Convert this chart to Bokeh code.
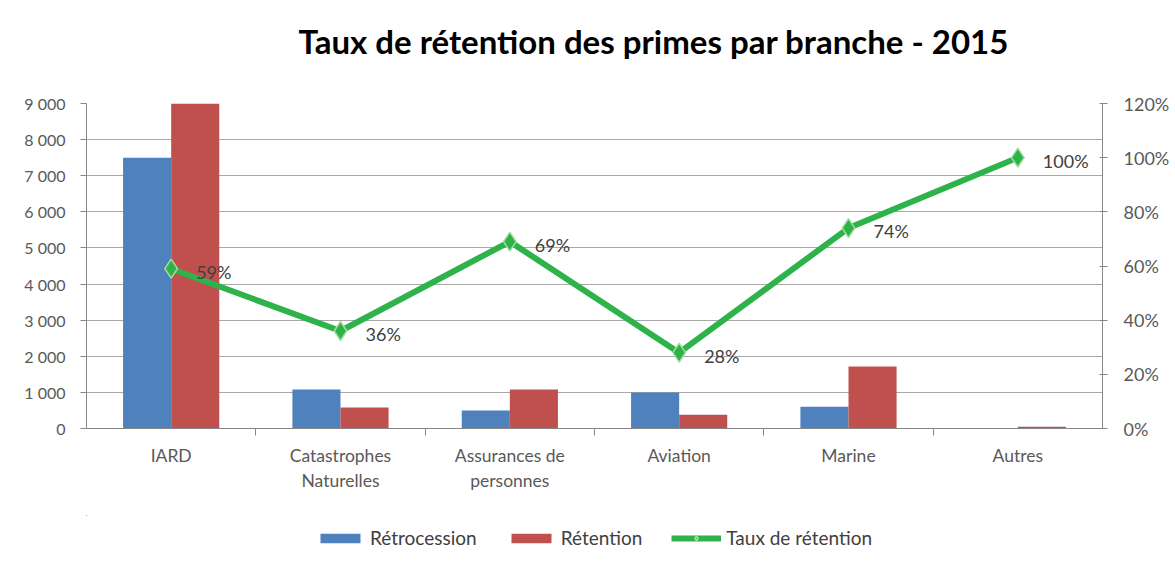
from bokeh.plotting import figure
from bokeh.layouts import column
from bokeh.models import (ColumnDataSource, Range1d, LinearAxis, FixedTicker, Legend, LegendItem,
                          LabelSet, Title)
from bokeh.core.properties import value
from bokeh.transform import dodge
from bokeh.embed import file_html
from bokeh.resources import INLINE

categories = ["IARD", "Catastrophes\nNaturelles", "Assurances de\npersonnes", "Aviation", "Marine", "Autres"]
retrocession = [7500, 1080, 500, 1000, 600, 0]
retention = [10800, 580, 1080, 380, 1720, 50]
taux = [0.59, 0.36, 0.69, 0.28, 0.74, 1.00]
taux_labels = ["59%", "36%", "69%", "28%", "74%", "100%"]
series_names = ["Rétrocession", "Rétention", "Taux de rétention"]
title_text = "Taux de rétention des primes par branche - 2015"
left_ticks = [0, 1000, 2000, 3000, 4000, 5000, 6000, 7000, 8000, 9000]
left_labels = ["0", "1 000", "2 000", "3 000", "4 000", "5 000", "6 000", "7 000", "8 000", "9 000"]
right_ticks = [0, 0.2, 0.4, 0.6, 0.8, 1.0, 1.2]
right_labels = ["0%", "20%", "40%", "60%", "80%", "100%", "120%"]

FONT = "Lato"
TXT = "#595959"
BLUE, RED, GREEN, GREEN_EDGE = "#4F81BD", "#C0504D", "#2DB34A", "#A8DCA0"
W = 1175

xs = list(range(len(categories)))
src = ColumnDataSource(dict(x=xs, retro=retrocession, ret=retention, taux=taux, lab=taux_labels))

p = figure(width=W, height=515, output_backend="svg", toolbar_location=None,
           x_range=Range1d(-0.5, len(categories) - 0.5), y_range=Range1d(0, 9000),
           min_border_left=86, min_border_right=73, min_border_top=103, min_border_bottom=87)
p.outline_line_color = None
# spacer (closest to the frame), then the real title above it
p.add_layout(Title(text=" ", text_font_size="1px", standoff=22), "above")
p.add_layout(Title(text=title_text, align="left", offset=212, text_font=FONT,
                   text_font_size="33px", text_font_style="bold", text_color="#000000",
                   standoff=36), "above")

p.extra_y_ranges = {"pct": Range1d(0, 1.2)}

xa = p.xaxis[0]
xa.ticker = FixedTicker(ticks=xs, minor_ticks=[i + 0.5 for i in xs[:-1]])
xa.major_label_overrides = {i: c for i, c in zip(xs, categories)}
xa.major_tick_line_color = None
xa.minor_tick_out = 7
xa.minor_tick_in = 0
xa.minor_tick_line_color = "#868686"
xa.axis_line_color = "#868686"
xa.major_label_text_font = FONT
xa.major_label_text_font_size = "17.5px"
xa.major_label_text_color = TXT
xa.major_label_standoff = 9

ya = p.yaxis[0]
ya.ticker = FixedTicker(ticks=left_ticks, minor_ticks=[])
ya.major_label_overrides = {t: l for t, l in zip(left_ticks, left_labels)}
ya.major_tick_out = 6
ya.major_tick_in = 0
ya.axis_line_color = "#868686"
ya.major_tick_line_color = "#868686"
ya.major_label_text_font = FONT
ya.major_label_text_font_size = "16px"
ya.major_label_text_color = TXT
ya.major_label_standoff = 15

ra = LinearAxis(y_range_name="pct", ticker=FixedTicker(ticks=right_ticks, minor_ticks=[]))
ra.major_label_overrides = {t: l for t, l in zip(right_ticks, right_labels)}
ra.major_tick_out = 5
ra.major_tick_in = 3
ra.axis_line_color = "#868686"
ra.major_tick_line_color = "#868686"
ra.major_label_text_font = FONT
ra.major_label_text_font_size = "18px"
ra.major_label_text_color = TXT
ra.major_label_standoff = 16
p.add_layout(ra, "right")

p.xgrid.grid_line_color = None
p.ygrid.ticker = FixedTicker(ticks=left_ticks)
p.ygrid.grid_line_color = "#a8a8a8"
p.ygrid.grid_line_width = 1


def draw(fig, marker_size):
    b1 = fig.vbar(x=dodge("x", -0.142, range=fig.x_range), top="retro", width=0.284, source=src,
                  fill_color=BLUE, line_color=None)
    b2 = fig.vbar(x=dodge("x", 0.142, range=fig.x_range), top="ret", width=0.284, source=src,
                  fill_color=RED, line_color=None)
    ln = fig.line("x", "taux", source=src, y_range_name="pct", line_color=GREEN, line_width=6)
    mk = fig.scatter("x", "taux", source=src, y_range_name="pct", marker="diamond", size=marker_size,
                     fill_color=GREEN, line_color=GREEN_EDGE, line_width=1.5)
    return b1, b2, ln, mk


draw(p, 19)

labels = LabelSet(x="x", y="taux", text="lab", source=src, y_range_name="pct",
                  x_offset=25, y_offset=-3, text_baseline="middle",
                  text_font=value(FONT), text_font_size=value("18px"), text_color="#404040")
p.add_layout(labels)

# legend strip below the chart (its ranges show none of the data; only the legend is visible)
lf = figure(width=W, height=40, output_backend="svg", toolbar_location=None,
            x_range=Range1d(100, 101), y_range=Range1d(-2, -1),
            min_border=0, min_border_left=86, min_border_right=73, min_border_top=0, min_border_bottom=0)
lf.extra_y_ranges = {"pct": Range1d(-2, -1)}
lf.axis.visible = False
lf.grid.visible = False
lf.outline_line_color = None
l1, l2, l3, l4 = draw(lf, 10)
legend = Legend(items=[LegendItem(label=series_names[0], renderers=[l1]),
                       LegendItem(label=series_names[1], renderers=[l2]),
                       LegendItem(label=series_names[2], renderers=[l3, l4])],
                orientation="horizontal", location=(229, 6),
                glyph_width=50, glyph_height=12, spacing=29, label_standoff=5,
                label_text_font=FONT, label_text_font_size="19px", label_text_color="#404040",
                border_line_color=None, background_fill_alpha=0, padding=0, margin=0)
lf.add_layout(legend, "center")

layout = column(p, lf, spacing=0)
open("out.html", "w").write(file_html(layout, INLINE))
